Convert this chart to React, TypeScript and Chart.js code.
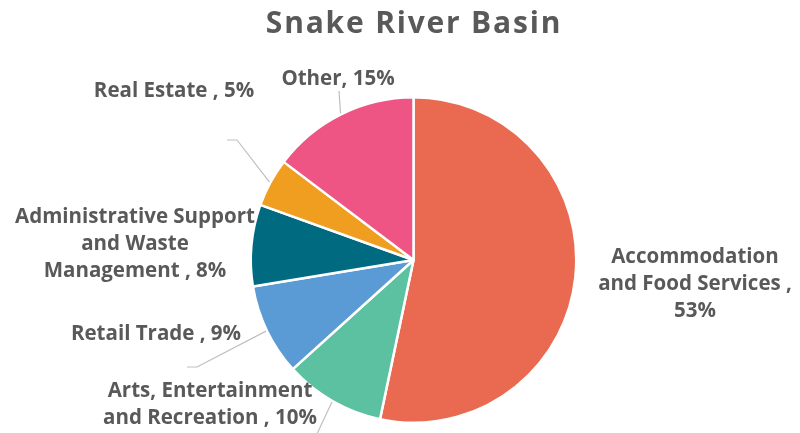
import React, { useEffect, useRef } from "react";
import { Chart, registerables } from "chart.js";

Chart.register(...registerables);

const TITLE = "Snake River Basin";
const categories = [
  "Accommodation and Food Services",
  "Arts, Entertainment and Recreation",
  "Retail Trade",
  "Administrative Support and Waste Management",
  "Real Estate",
  "Other",
];
const shares = [53.3, 10.0, 9.1, 8.1, 4.8, 14.7];
const labelTexts = [
  ["Accommodation", "and Food Services ,", "53%"],
  ["Arts, Entertainment", "and Recreation , 10%"],
  ["Retail Trade , 9%"],
  ["Administrative Support", "and Waste", "Management , 8%"],
  ["Real Estate , 5%"],
  ["Other, 15%"],
];
const colors = ["#E96A50", "#5BC1A0", "#5B9BD5", "#006A80", "#F09E20", "#EE5585"];

// label layout (center x, first baseline y) and leader line points (after arc edge)
const labelLayout = [
  { x: 695, y: 263, leader: null as null | number[][] },
  { x: 210, y: 397, leader: [[316, 436]] },
  { x: 156, y: 340, leader: [[197, 367], [187, 367]] },
  { x: 135, y: 223, leader: null },
  { x: 174, y: 97, leader: [[237, 140], [227, 140]] },
  { x: 338, y: 85, leader: [[339, 91]] },
];

const labelPlugin = {
  id: "pieLabels",
  afterDatasetsDraw(chart: any) {
    const ctx = chart.ctx;
    const meta = chart.getDatasetMeta(0);
    ctx.save();
    // title
    ctx.fillStyle = "#595959";
    ctx.font = "bold 30px 'Open Sans'";
    ctx.textAlign = "center";
    ctx.textBaseline = "alphabetic";
    try { (ctx as any).letterSpacing = "1.8px"; } catch (e) {}
    ctx.fillText(TITLE, 414, 33);
    try { (ctx as any).letterSpacing = "0px"; } catch (e) {}

    meta.data.forEach((arc: any, i: number) => {
      const lay = labelLayout[i];
      if (lay.leader) {
        const mid = (arc.startAngle + arc.endAngle) / 2;
        const sx = arc.x + Math.cos(mid) * (arc.outerRadius + 1);
        const sy = arc.y + Math.sin(mid) * (arc.outerRadius + 1);
        ctx.strokeStyle = "#BFBFBF";
        ctx.lineWidth = 1.2;
        ctx.beginPath();
        ctx.moveTo(sx, sy);
        lay.leader.forEach((p) => ctx.lineTo(p[0], p[1]));
        ctx.stroke();
      }
      ctx.fillStyle = "#595959";
      ctx.font = "bold 20.5px 'Open Sans'";
      ctx.textAlign = "center";
      labelTexts[i].forEach((t, k) => ctx.fillText(t, lay.x, lay.y + k * 27));
    });
    ctx.restore();
  },
};

export default function App() {
  const ref = useRef<HTMLCanvasElement>(null);
  useEffect(() => {
    document.body.style.margin = "0";
    const chart = new Chart(ref.current!, {
      type: "pie",
      data: {
        labels: categories,
        datasets: [
          {
            data: shares,
            backgroundColor: colors,
            borderColor: "#FFFFFF",
            borderWidth: 2.5,
          },
        ],
      },
      options: {
        animation: false,
        responsive: false,
        layout: { padding: { top: 96, bottom: 9, left: 27, right: 0 } },
        plugins: {
          legend: { display: false },
          tooltip: { enabled: false },
          title: { display: false },
        },
      },
      plugins: [labelPlugin],
    });
    return () => chart.destroy();
  }, []);
  return (
    <div style={{ width: 800, height: 433, background: "#fff" }}>
      <canvas ref={ref} width={800} height={433} />
    </div>
  );
}
